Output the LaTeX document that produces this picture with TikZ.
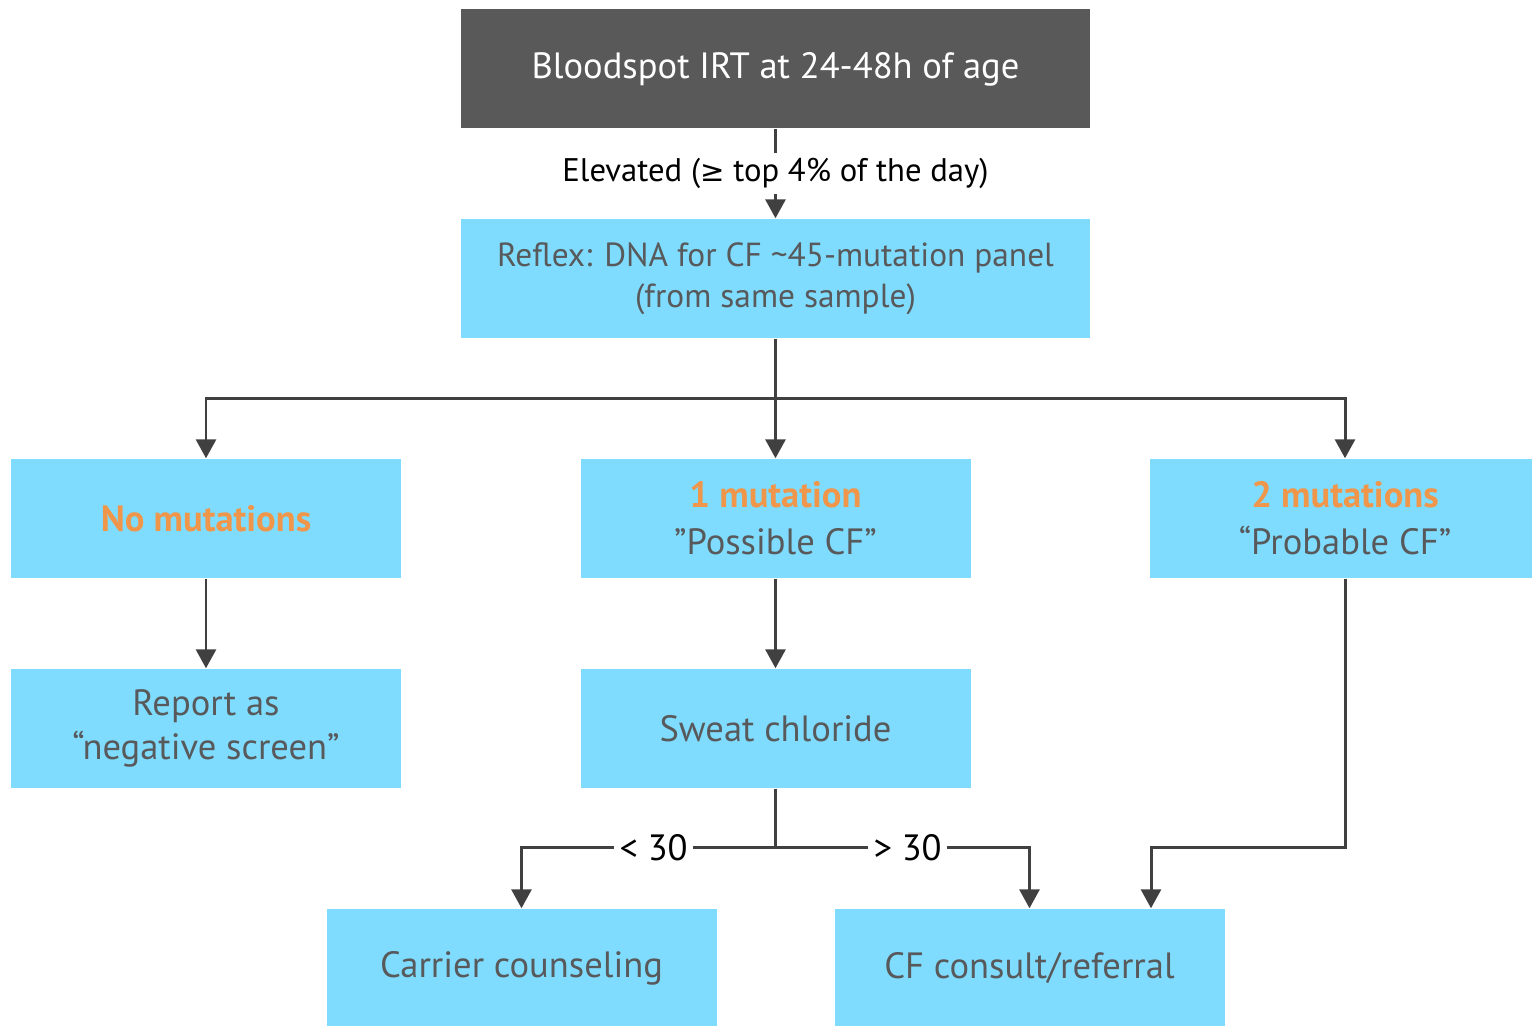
\documentclass[tikz,border=0pt]{standalone}
\usepackage{fontspec}
\setmainfont{PT Sans}
\newfontfamily\symfont{DejaVu Sans}
\usetikzlibrary{arrows.meta}

\definecolor{cfblue}{HTML}{80DCFE}
\definecolor{cfdark}{HTML}{595959}
\definecolor{cftext}{HTML}{58595B}
\definecolor{cforange}{HTML}{F0964B}
\definecolor{cfline}{HTML}{404040}

\begin{document}
\begin{tikzpicture}[
  font=\fontsize{10.4}{12.4}\selectfont,
  box/.style={rectangle, fill=cfblue, text=cftext, align=center,
    minimum width=3.9cm, minimum height=1.19cm, inner sep=0pt},
  widebox/.style={box, minimum width=6.29cm},
  topbox/.style={widebox, fill=cfdark, text=white},
  link/.style={draw=cfline, line width=0.85pt},
  arr/.style={link, -{Triangle[length=0.19cm, width=0.2cm]}},
  lbl/.style={fill=white, text=black, inner sep=1.5pt},
]
  \useasboundingbox (0,0) rectangle (15.32,-10.26);

  % boxes
  \node[topbox] (irt) at (7.755,-0.69) {Bloodspot IRT at 24-48h of age};
  \node[widebox, font=\fontsize{9.5}{11.6}\selectfont] (reflex) at (7.755,-2.785) {Reflex: DNA for CF \textasciitilde45-mutation panel\\(from same sample)};
  \node[box] (nomut) at (2.06,-5.185) {\textcolor{cforange}{\bfseries No mutations}};
  \node[box] (onemut) at (7.755,-5.185) {{\color{cforange}\bfseries 1 mutation}\\[1pt]”Possible CF”};
  \node[box] (twomut) at (13.45,-5.185) {{\color{cforange}\bfseries 2 mutations}\\[1pt]“Probable CF”};
  \node[box] (report) at (2.06,-7.285) {Report as\\“negative screen”};
  \node[box] (sweat) at (7.755,-7.285) {Sweat chloride};
  \node[box] (carrier) at (5.215,-9.685) {Carrier counseling};
  \node[box] (consult) at (10.295,-9.685) {CF consult/referral};

  % branch points
  \coordinate (split) at (7.755,-3.99);
  \coordinate (fork) at (7.755,-8.48);
  \coordinate (join) at (11.51,-8.48);

  % connectors
  \draw[arr] (irt) -- node[lbl, font=\fontsize{9.3}{12}\selectfont] {Elevated ({\symfont\fontsize{8.3}{12}\selectfont ≥} top 4\% of the day)} (reflex);
  \draw[link] (reflex) -- (split);
  \draw[arr] (split) -| (nomut);
  \draw[arr] (split) -- (onemut);
  \draw[arr] (split) -| (twomut);
  \draw[arr] (nomut) -- (report);
  \draw[arr] (onemut) -- (sweat);
  \draw[link] (sweat) -- (fork);
  \draw[arr] (fork) -| node[lbl, pos=0.24] {< 30} (carrier);
  \draw[arr] (fork) -| node[lbl, pos=0.26] {> 30} (consult);
  \draw[arr] (twomut) |- (join) -- (join |- consult.north);
\end{tikzpicture}
\end{document}
